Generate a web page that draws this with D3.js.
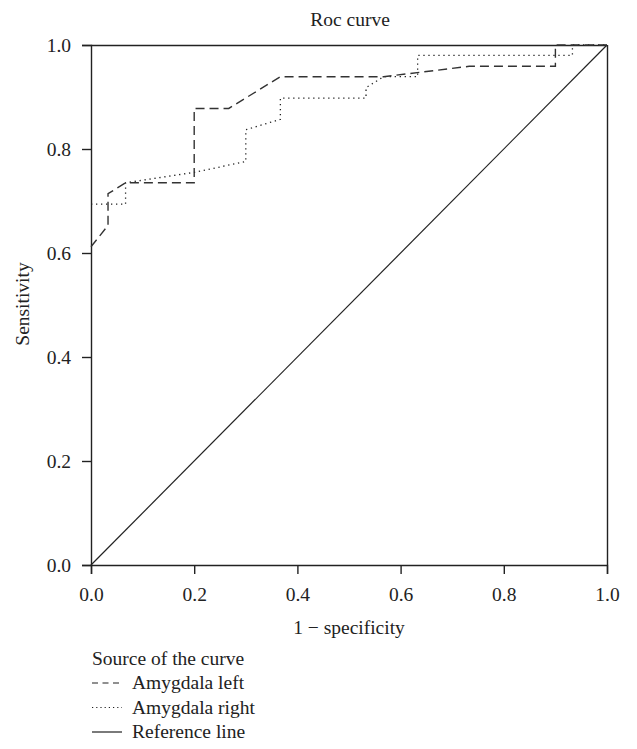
<!DOCTYPE html>
<html>
<head>
<meta charset="utf-8">
<script src="https://cdn.jsdelivr.net/npm/d3@7"></script>
<style>
  body { margin: 0; background: #fff; }
  svg text { font-family: "Liberation Serif", "Times New Roman", serif; fill: #222; }
</style>
</head>
<body>
<svg id="chart" width="637" height="749"></svg>
<script>
'use strict';

// data (1 - specificity, sensitivity)
var leftX  = [0, 0.033, 0.033, 0.067, 0.2, 0.2, 0.267, 0.367, 0.567, 0.733, 0.9, 0.9, 1];
var leftY  = [0.612, 0.653, 0.714, 0.735, 0.735, 0.878, 0.878, 0.939, 0.939, 0.959, 0.959, 1, 1];
var rightX = [0, 0.067, 0.067, 0.2, 0.3, 0.3, 0.367, 0.367, 0.533, 0.533, 0.567, 0.633, 0.633, 0.933, 0.933, 1];
var rightY = [0.694, 0.694, 0.735, 0.755, 0.776, 0.837, 0.857, 0.898, 0.898, 0.918, 0.939, 0.939, 0.98, 0.98, 1, 1];
var refX = [0, 1];
var refY = [0, 1];
var ticks = [0, 0.2, 0.4, 0.6, 0.8, 1.0];

var legendItems = [
  { name: 'Amygdala left', dash: '6,4.5' },
  { name: 'Amygdala right', dash: '1.2,3' },
  { name: 'Reference line', dash: null }
];

var svg = d3.select('#chart');
var mLeft = 91, mTop = 45, plotW = 516, plotH = 520;
var fs = '19.5px';

var x = d3.scaleLinear().domain([0, 1]).range([mLeft, mLeft + plotW]);
var y = d3.scaleLinear().domain([0, 1]).range([mTop + plotH, mTop]);

var zip = function (xs, ys) { return xs.map(function (v, i) { return [v, ys[i]]; }); };
var line = d3.line().x(function (d) { return x(d[0]); }).y(function (d) { return y(d[1]); });

// title
svg.append('text').attr('x', 350).attr('y', 26).attr('text-anchor', 'middle')
  .style('font-size', fs).text('Roc curve');

// frame top & right
svg.append('line').attr('x1', x(0)).attr('x2', x(1)).attr('y1', y(1) + 0.5).attr('y2', y(1) + 0.5)
  .attr('stroke', '#222').attr('stroke-width', 1.4);
svg.append('line').attr('x1', x(1) + 0.5).attr('x2', x(1) + 0.5).attr('y1', y(0)).attr('y2', y(1))
  .attr('stroke', '#222').attr('stroke-width', 1.4);

// axes
var xAxis = d3.axisBottom(x).tickValues(ticks).tickFormat(d3.format('.1f')).tickSize(9).tickPadding(13);
var yAxis = d3.axisLeft(y).tickValues(ticks).tickFormat(d3.format('.1f')).tickSize(9).tickPadding(11);

var gx = svg.append('g').attr('transform', 'translate(0,' + y(0) + ')').call(xAxis);
var gy = svg.append('g').attr('transform', 'translate(' + x(0) + ',0)').call(yAxis);
[gx, gy].forEach(function (g) {
  g.select('.domain').attr('stroke', '#222').attr('stroke-width', 1.4);
  g.selectAll('.tick line').attr('stroke', '#222').attr('stroke-width', 1.4);
  g.selectAll('.tick text').style('font-size', fs).attr('fill', '#222')
    .style('font-family', '"Liberation Serif", "Times New Roman", serif');
});

// axis titles
svg.append('text').attr('x', 349).attr('y', 634).attr('text-anchor', 'middle')
  .style('font-size', fs).text('1 \u2212 specificity');
svg.append('text').attr('transform', 'translate(29,304) rotate(-90)').attr('text-anchor', 'middle')
  .style('font-size', fs).text('Sensitivity');

// curves
svg.append('path').datum(zip(refX, refY)).attr('d', line)
  .attr('fill', 'none').attr('stroke', '#222').attr('stroke-width', 1.2);
svg.append('path').datum(zip(rightX, rightY)).attr('d', line)
  .attr('fill', 'none').attr('stroke', '#222').attr('stroke-width', 1.3)
  .attr('stroke-dasharray', '1.3,3.7');
svg.append('path').datum(zip(leftX, leftY)).attr('d', line)
  .attr('fill', 'none').attr('stroke', '#333').attr('stroke-width', 1.4)
  .attr('stroke-dasharray', '9,5');

// legend
svg.append('text').attr('x', 92).attr('y', 665).style('font-size', fs).text('Source of the curve');
var lg = svg.selectAll('.leg').data(legendItems).enter().append('g')
  .attr('class', 'leg')
  .attr('transform', function (d, i) { return 'translate(92,' + (689 + i * 24.5) + ')'; });
lg.append('line').attr('x1', 0).attr('x2', 30).attr('y1', -6).attr('y2', -6)
  .attr('stroke', '#222').attr('stroke-width', 1.2)
  .attr('stroke-dasharray', function (d) { return d.dash; });
lg.append('text').attr('x', 40).attr('y', 0).style('font-size', fs)
  .text(function (d) { return d.name; });
</script>
</body>
</html>
